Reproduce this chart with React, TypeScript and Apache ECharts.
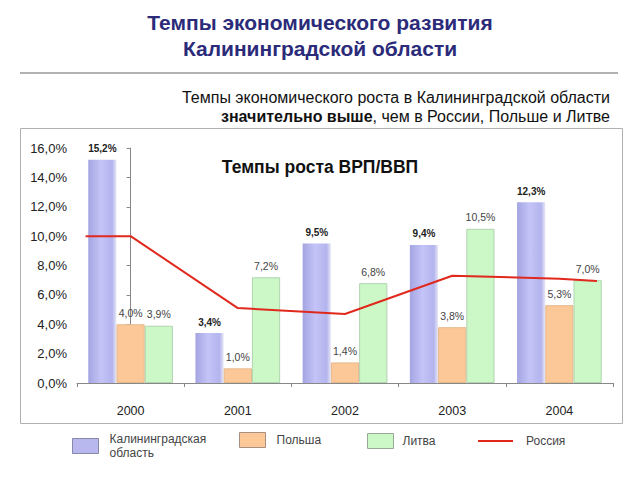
import React, { useEffect, useRef } from "react";
import * as echarts from "echarts";

const years = ["2000", "2001", "2002", "2003", "2004"];
const kaliningrad = [15.2, 3.4, 9.5, 9.4, 12.3];
const poland = [4.0, 1.0, 1.4, 3.8, 5.3];
const lithuania = [3.9, 7.2, 6.8, 10.5, 7.0];
// Russia line: positions in category units (0 = 2000), line extends slightly past the ends
const russiaPos = [-0.42, 0, 1, 2, 3, 4, 4.35];
const russiaVals = [10.0, 10.0, 5.1, 4.7, 7.3, 7.1, 6.95];
const yTicks = { min: 0, max: 16, interval: 2 };

const FONT = "'Liberation Sans', Arial, sans-serif";
const fmt = (v: number) => v.toFixed(1).replace(".", ",") + "%";

export default function App() {
  const ref = useRef<HTMLDivElement>(null);
  useEffect(() => {
    if (!ref.current) return;
    const chart = echarts.init(ref.current, null, { renderer: "svg" });
    const barLabel = (bold: boolean, dist: number) => ({
      show: true,
      position: "top",
      distance: dist,
      formatter: (p: any) => fmt(p.value),
      fontFamily: FONT,
      fontSize: bold ? 10 : 10.5,
      fontWeight: bold ? "bold" : "normal",
      color: bold ? "#222" : "#444",
    });
    const legendBase = {
      orient: "horizontal",
      itemWidth: 26,
      itemHeight: 15,
      padding: 0,
      icon: "rect",
      textStyle: { fontFamily: FONT, fontSize: 12, color: "#444", lineHeight: 14, padding: [0, 0, 0, 4] },
    };
    chart.setOption({
      animation: false,
      backgroundColor: "#fff",
      textStyle: { fontFamily: FONT },
      graphic: [
        {
          type: "text",
          left: "center",
          top: 9,
          style: {
            text: "Темпы экономического развития\nКалининградской области",
            font: `bold 21px ${FONT}`,
            fill: "#2b2b7a",
            textAlign: "center",
            lineHeight: 26,
          },
        },
        {
          type: "line",
          shape: { x1: 20, y1: 73, x2: 618, y2: 73 },
          style: { stroke: "#666", lineWidth: 1.2 },
        },
        {
          type: "text",
          right: 30,
          top: 88,
          style: {
            text: "Темпы экономического роста в Калининградской области\n{b|значительно выше}, чем в России, Польше и Литве",
            font: `16px ${FONT}`,
            fill: "#111",
            textAlign: "right",
            lineHeight: 19,
            rich: {
              b: { font: `bold 16px ${FONT}`, fill: "#111" },
            },
          },
        },
        {
          type: "rect",
          shape: { x: 20.5, y: 128.5, width: 602, height: 295 },
          style: { fill: "none", stroke: "#b0b0b0", lineWidth: 1 },
          z: -1,
        },
        {
          type: "text",
          left: "center",
          top: 158,
          style: {
            text: "Темпы роста ВРП/ВВП",
            font: `bold 17.5px ${FONT}`,
            fill: "#111",
          },
        },
      ],
      grid: { left: 77, right: 27, top: 148, bottom: 97, containLabel: false },
      xAxis: [
        {
          type: "category",
          data: years,
          boundaryGap: true,
          axisLine: { lineStyle: { color: "#888" } },
          axisTick: { show: true, length: 4, lineStyle: { color: "#888" } },
          axisLabel: { fontFamily: FONT, fontSize: 12.5, color: "#222", margin: 21 },
        },
        {
          type: "value",
          min: -0.5,
          max: 4.5,
          show: false,
        },
      ],
      yAxis: {
        type: "value",
        min: yTicks.min,
        max: yTicks.max,
        interval: yTicks.interval,
        axisLine: { show: true, lineStyle: { color: "#888" } },
        axisTick: { show: true, length: 4, lineStyle: { color: "#888" } },
        splitLine: { show: false },
        axisLabel: { fontFamily: FONT, fontSize: 13, color: "#222", margin: 10, formatter: (v: number) => fmt(v) },
      },
      legend: [
        {
          ...legendBase,
          left: 72,
          top: 432,
          data: [{ name: "Калининградская область", itemStyle: { color: "#b8b8ee", borderColor: "#8888aa", borderWidth: 1 } }],
          formatter: (n: string) => n.replace(" ", "\n"),
          textStyle: { ...legendBase.textStyle, padding: [0, 0, 0, 6] },
        },
        {
          ...legendBase,
          left: 239,
          top: 432,
          data: [{ name: "Польша", itemStyle: { color: "#fcc898", borderColor: "#a89080", borderWidth: 1 } }],
          textStyle: { ...legendBase.textStyle, padding: [0, 0, 0, 6] },
        },
        {
          ...legendBase,
          left: 367,
          top: 433,
          data: [{ name: "Литва", itemStyle: { color: "#ccf7c6", borderColor: "#98a898", borderWidth: 1 } }],
          textStyle: { ...legendBase.textStyle, padding: [0, 0, 0, 4] },
        },
        {
          ...legendBase,
          left: 478,
          top: 434,
          itemWidth: 35,
          itemHeight: 2,
          data: [{ name: "Россия", icon: "rect", itemStyle: { color: "#e0281c" } }],
          textStyle: { ...legendBase.textStyle, padding: [0, 0, 0, 8] },
        },
      ],
      series: [
        {
          name: "Калининградская область",
          type: "bar",
          data: kaliningrad,
          barGap: "0%",
          barCategoryGap: "21%",
          itemStyle: {
            color: new echarts.graphic.LinearGradient(0, 0, 1, 0, [
              { offset: 0, color: "#a4a4e2" },
              { offset: 0.45, color: "#c4c4f8" },
              { offset: 0.85, color: "#b4b4ee" },
              { offset: 1, color: "#e8e8f6" },
            ]),
          },
          label: barLabel(true, 6),
        },
        {
          name: "Польша",
          type: "bar",
          data: poland,
          barGap: "0%",
          barCategoryGap: "21%",
          itemStyle: { color: "#fcc898", borderColor: "#e6b88c", borderWidth: 1 },
          label: barLabel(false, 6),
        },
        {
          name: "Литва",
          type: "bar",
          data: lithuania,
          barGap: "0%",
          barCategoryGap: "21%",
          itemStyle: { color: "#ccf7c6", borderColor: "#b0d4b0", borderWidth: 1 },
          label: barLabel(false, 6),
        },
        {
          name: "Россия",
          type: "line",
          xAxisIndex: 1,
          data: russiaPos.map((p, i) => [p, russiaVals[i]]),
          symbol: "none",
          lineStyle: { color: "#e0281c", width: 2 },
          itemStyle: { color: "#e0281c" },
          z: 5,
        },
      ],
    });
    return () => chart.dispose();
  }, []);
  return <div ref={ref} style={{ position: "fixed", left: 0, top: 0, width: 640, height: 480 }} />;
}
